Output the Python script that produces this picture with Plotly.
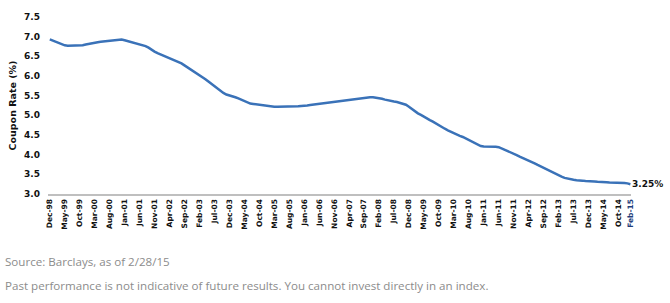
import pandas as pd
import plotly.graph_objects as go

# Monthly coupon rate (%) from Dec-98 to Feb-15
months = [d.strftime("%b-%y") for d in pd.date_range("1998-12-01", "2015-02-01", freq="MS")]
coupon = [
    6.93, 6.90, 6.86, 6.82, 6.80, 6.78, 6.77, 6.77, 6.77, 6.77,
    6.77, 6.78, 6.80, 6.82, 6.84, 6.85, 6.86, 6.87, 6.88, 6.89,
    6.90, 6.91, 6.92, 6.92, 6.93, 6.91, 6.89, 6.87, 6.85, 6.82,
    6.80, 6.78, 6.76, 6.72, 6.66, 6.62, 6.58, 6.55, 6.51, 6.48,
    6.45, 6.42, 6.39, 6.36, 6.32, 6.27, 6.22, 6.18, 6.14, 6.09,
    6.03, 5.97, 5.92, 5.86, 5.80, 5.75, 5.68, 5.62, 5.57, 5.53,
    5.51, 5.48, 5.46, 5.43, 5.40, 5.35, 5.32, 5.30, 5.29, 5.28,
    5.26, 5.25, 5.24, 5.23, 5.22, 5.22, 5.22, 5.22, 5.22, 5.22,
    5.22, 5.22, 5.23, 5.23, 5.24, 5.24, 5.25, 5.26, 5.27, 5.28,
    5.29, 5.31, 5.32, 5.33, 5.34, 5.35, 5.36, 5.37, 5.38, 5.38,
    5.39, 5.40, 5.41, 5.42, 5.43, 5.44, 5.45, 5.46, 5.46, 5.45,
    5.43, 5.42, 5.40, 5.38, 5.36, 5.35, 5.34, 5.32, 5.30, 5.27,
    5.22, 5.16, 5.10, 5.05, 5.01, 4.96, 4.92, 4.88, 4.84, 4.79,
    4.74, 4.70, 4.66, 4.62, 4.58, 4.55, 4.52, 4.48, 4.45, 4.41,
    4.36, 4.32, 4.28, 4.24, 4.22, 4.21, 4.21, 4.21, 4.20, 4.20,
    4.19, 4.16, 4.13, 4.10, 4.06, 4.02, 3.99, 3.95, 3.92, 3.88,
    3.85, 3.82, 3.78, 3.74, 3.70, 3.67, 3.63, 3.60, 3.56, 3.52,
    3.48, 3.44, 3.41, 3.39, 3.37, 3.36, 3.35, 3.35, 3.34, 3.33,
    3.33, 3.32, 3.32, 3.31, 3.31, 3.30, 3.30, 3.29, 3.29, 3.29,
    3.28, 3.28, 3.28, 3.27, 3.25,
]
yticks = [3.0, 3.5, 4.0, 4.5, 5.0, 5.5, 6.0, 6.5, 7.0, 7.5]
tick_idx = list(range(0, len(months), 5)) + [len(months) - 1]
tick_months = [months[i] for i in tick_idx]
end_label = "3.25%"
source_text = "Source: Barclays, as of 2/28/15"
disclaimer = "Past performance is not indicative of future results. You cannot invest directly in an index."

ticktext = ["<b>" + m + "</b>" if i < len(tick_months) - 1
            else "<b><span style='color:#1f3d7a'>" + m + "</span></b>"
            for i, m in enumerate(tick_months)]

BOLD_FONT = "DejaVu Sans"
TEXT_FONT = "Open Sans"

fig = go.Figure()
fig.add_trace(go.Scatter(
    x=list(range(len(months))), y=coupon, mode="lines",
    line=dict(color="#3a72b8", width=2.5), hoverinfo="skip", showlegend=False,
))

fig.add_annotation(x=len(months) - 1, y=coupon[-1], text="<b>" + end_label + "</b>", showarrow=False,
                   xanchor="left", yanchor="middle", xshift=0,
                   font=dict(family=BOLD_FONT, size=9, color="#111111"))
fig.add_annotation(xref="paper", yref="paper", x=-45/586, y=(194-263)/180.5, text=source_text,
                   showarrow=False, xanchor="left", yanchor="middle",
                   font=dict(family=TEXT_FONT, size=11.6, color="#8c8c8c"))
fig.add_annotation(xref="paper", yref="paper", x=-45/586, y=(194-287)/180.5, text=disclaimer,
                   showarrow=False, xanchor="left", yanchor="middle",
                   font=dict(family=TEXT_FONT, size=11.6, color="#8c8c8c"))

fig.update_layout(
    width=670, height=303,
    margin=dict(l=45, r=39, t=13, b=109),
    plot_bgcolor="white", paper_bgcolor="white",
    xaxis=dict(
        range=[-0.6, 194.2], tickmode="array", tickvals=tick_idx, ticktext=ticktext,
        tickangle=-90, showgrid=False, zeroline=False,
        showline=True, linecolor="#bfbfbf", linewidth=2, ticks="",
        tickfont=dict(family=BOLD_FONT, size=7.5, color="#111111"),
    ),
    yaxis=dict(
        range=[3.0, 7.5], tickmode="array", tickvals=yticks,
        ticktext=[f"<b>{v:.1f}</b>" for v in yticks],
        showgrid=False, zeroline=False, showline=False, ticks="",
        ticklabelstandoff=7,
        tickfont=dict(family=BOLD_FONT, size=9, color="#111111"),
        title=dict(text="<b>Coupon Rate (%)</b>", standoff=5,
                   font=dict(family=BOLD_FONT, size=9.5, color="#111111")),
    ),
)

fig.write_html("out.html")
